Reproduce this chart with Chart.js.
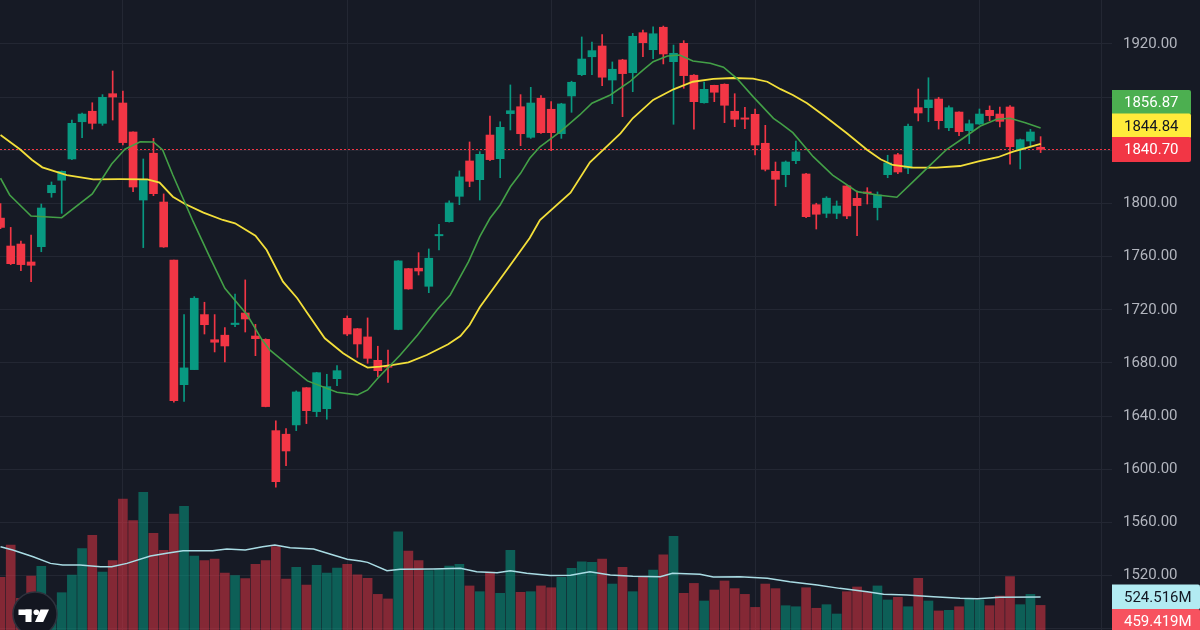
<!DOCTYPE html>
<html>
<head>
<meta charset="utf-8">
<script src="https://cdn.jsdelivr.net/npm/chart.js@4.4.1/dist/chart.umd.min.js"></script>
<style>
  html, body { margin: 0; padding: 0; background: #161a25; overflow: hidden; }
  #wrap { width: 1200px; height: 630px; position: relative; }
</style>
</head>
<body>
<div id="wrap"><canvas id="chart"></canvas></div>
<script>
// daily candles
const opens = [
  1789, 1768, 1769.5, 1756, 1767.5, 1808.1, 1817.5, 1833.5, 1861.5, 1869.4,
  1860.3, 1882.6, 1875.6, 1853.8, 1802.6, 1837.8, 1801.1, 1757.5, 1663.7, 1675,
  1716.4, 1697.5, 1700.9, 1708.9, 1717.6, 1700.3, 1697.8, 1629.1, 1626.4, 1633.4,
  1661.4, 1643.4, 1645.6, 1668.2, 1713.6, 1705.8, 1699.6, 1682, 1677.8, 1705.2,
  1751, 1751.3, 1737.7, 1775.7, 1786.3, 1805.4, 1832, 1817.9, 1851.5, 1833.7,
  1867.6, 1872.8, 1849.8, 1879.2, 1870.9, 1852.5, 1880.9, 1896.9, 1910.4, 1918.5,
  1892.9, 1908, 1898.4, 1928.5, 1915.7, 1932.6, 1906.7, 1920.5, 1896.5, 1875.8,
  1888.9, 1889.7, 1869.4, 1864.4, 1867.1, 1845.3, 1824.2, 1821.7, 1832.2, 1822.2,
  1799.1, 1792.6, 1792.6, 1813.2, 1803.9, 1808.7, 1796.9, 1821.7, 1836.7, 1826.5,
  1872.1, 1872.1, 1878.6, 1857, 1868.8, 1854.8, 1859.8, 1870.1, 1867.3, 1872.6,
  1840.5, 1847, 1842.3
];
const highs = [
  1800, 1782, 1771.8, 1776.3, 1799.6, 1816.2, 1824.5, 1862.8, 1868, 1875.8,
  1881.9, 1899.7, 1884.6, 1854, 1833.5, 1849, 1807.2, 1757.5, 1716.4, 1729.9,
  1725.7, 1716.4, 1706.6, 1731.9, 1742.5, 1709.1, 1698.2, 1636.4, 1630.6, 1659,
  1661.5, 1673, 1671.5, 1678, 1715.4, 1706, 1713.9, 1692.6, 1689.8, 1757,
  1751.2, 1763, 1765.8, 1784.4, 1802, 1824.5, 1846.3, 1839, 1865.8, 1861.5,
  1889.2, 1881.9, 1887.4, 1881.1, 1876.6, 1875.4, 1892, 1925.3, 1921.5, 1927,
  1906.5, 1908.5, 1928, 1930.5, 1933, 1933.5, 1919.2, 1922.5, 1897, 1891.4,
  1889, 1890, 1882.6, 1872.4, 1871.1, 1858.8, 1831.2, 1832, 1847, 1822.7,
  1800.2, 1805.1, 1801.9, 1813.5, 1809.4, 1811.9, 1808.7, 1836.3, 1837.8, 1859.8,
  1886.1, 1894.6, 1879.9, 1873.4, 1869, 1862.8, 1871.1, 1873.4, 1872.6, 1873.6,
  1848.5, 1855.8, 1850.3
];
const lows = [
  1781, 1754, 1749.5, 1741.2, 1763.7, 1804.7, 1792.6, 1833, 1849.5, 1856,
  1858.8, 1862.8, 1844, 1808.9, 1766.8, 1805.9, 1767, 1650.5, 1651, 1675,
  1701.8, 1688.3, 1680.8, 1707.3, 1703.3, 1685.5, 1647, 1586.5, 1602.8, 1629.1,
  1634.4, 1639.6, 1637.7, 1662.9, 1700.6, 1684.3, 1679.8, 1669.7, 1665.3, 1705,
  1735.5, 1746.2, 1732.9, 1765, 1786, 1799.1, 1812.6, 1802.6, 1832.2, 1819.4,
  1855.3, 1843.5, 1849, 1852.8, 1839.7, 1849, 1868.6, 1896.2, 1896.9, 1888.6,
  1875.1, 1865.3, 1884.1, 1910.4, 1909, 1905, 1859.6, 1886.7, 1856, 1875.5,
  1876.6, 1860.8, 1857.8, 1856.3, 1836.5, 1824.5, 1798.4, 1812.6, 1830, 1789.4,
  1780.8, 1789.4, 1788.6, 1788.6, 1775.8, 1799.6, 1787.6, 1819.4, 1822.4, 1822.4,
  1862.1, 1861.5, 1856, 1854.8, 1851, 1845, 1859.5, 1862.3, 1857.6, 1829.5,
  1826, 1842.5, 1838.3
];
const closes = [
  1782, 1754.7, 1754, 1753.5, 1796.6, 1813.7, 1824.2, 1860.3, 1867.3, 1860.3,
  1879.9, 1880.1, 1845.8, 1812.4, 1817.7, 1807.4, 1767.3, 1651.7, 1676.3, 1728.7,
  1708.8, 1695.6, 1692.8, 1710, 1713.1, 1698.3, 1647.2, 1590.7, 1613.8, 1658.2,
  1644.1, 1672.7, 1662.2, 1674.2, 1701.8, 1694.3, 1683.5, 1674.2, 1676.8, 1756.8,
  1735.7, 1749.2, 1758.8, 1776.7, 1800.4, 1820, 1816.7, 1837, 1833, 1857.3,
  1869.8, 1852.5, 1875.6, 1853.3, 1853.3, 1874.9, 1891.2, 1908.7, 1915, 1895,
  1901, 1897.7, 1925.8, 1921, 1927.7, 1912.5, 1913, 1896.2, 1876.6, 1885.9,
  1883.7, 1873.9, 1863.4, 1863.4, 1844, 1825.7, 1818.2, 1831.2, 1838.8, 1790.1,
  1791.9, 1804, 1798.1, 1790.6, 1798.4, 1807.7, 1806.4, 1830.5, 1823.7, 1858.1,
  1868.1, 1877.9, 1862.3, 1872.1, 1854, 1860, 1867.3, 1866.1, 1861.8, 1842.7,
  1848, 1853.8, 1840.7
];
// volume in millions
const volumes = [
  680, 933, 515, 690, 766, 460, 559, 698, 904, 1009,
  721, 810, 1294, 1124, 1346, 1025, 891, 1176, 1236, 847,
  810, 823, 713, 693, 669, 781, 810, 920, 666, 758,
  619, 774, 713, 753, 781, 700, 672, 546, 510, 1037,
  886, 810, 732, 742, 768, 781, 612, 567, 721, 554,
  891, 562, 567, 612, 598, 680, 750, 802, 797, 823,
  627, 758, 567, 685, 737, 855, 1001, 554, 632, 494,
  580, 651, 591, 546, 444, 627, 591, 457, 449, 598,
  437, 465, 392, 567, 604, 562, 612, 502, 523, 449,
  672, 494, 416, 421, 449, 510, 502, 457, 533, 685,
  465, 546, 459.419
];

// moving averages: [bar index, value]
const maFast = [
  [0, 1819], [0.9, 1806.4], [3, 1790.6], [6, 1789.3], [9, 1807.2], [10.9, 1829.7],
  [12.2, 1840.8], [13.7, 1846.5], [15, 1846.3], [15.9, 1840.3], [16.9, 1821.4],
  [18.9, 1786.3], [20.5, 1760], [22, 1736.2], [24.2, 1716.1], [25.6, 1698],
  [26.4, 1689.8], [30.1, 1666.5], [33, 1658], [35, 1656], [36, 1659.7], [37, 1668.5],
  [39.2, 1686], [40.9, 1701], [42.8, 1719.9], [44.1, 1731.2], [45.9, 1756.2],
  [47, 1775], [48, 1788.9], [49, 1798.9], [50, 1812.6], [51, 1822.7], [51.9, 1834],
  [52.9, 1842.7], [54.9, 1854], [56.8, 1866.6], [58, 1875.4], [59.8, 1881.6],
  [61.7, 1891.6], [63, 1900.4], [64, 1906.7], [65.4, 1911], [66.6, 1911.7],
  [67.9, 1907.2], [69.6, 1905.5], [70.9, 1902.5], [72.2, 1894.2], [73.8, 1880.4],
  [75.8, 1864.1], [76.5, 1860.3], [77.7, 1853.3], [79.7, 1835.2], [81.6, 1821.4],
  [84, 1808.9], [86, 1806.4], [87.9, 1804.7], [89.5, 1816.4], [91.2, 1829],
  [92.8, 1840.8], [94.4, 1849.1], [96.1, 1858.3], [97.7, 1863.4], [99, 1864.1],
  [100.5, 1860.8], [102, 1856.87]
];
const maSlow = [
  [0, 1851.5], [1.9, 1840.8], [3.1, 1832.7], [4.1, 1827.2], [6.5, 1821.4],
  [9.1, 1818.2], [11.7, 1818.4], [14.4, 1818.2], [15.6, 1815.7], [16.9, 1805.1],
  [18.1, 1799.6], [19.9, 1793.1], [21.8, 1787.6], [23, 1785.1], [25, 1775.8],
  [26.1, 1765], [27.7, 1741.2], [29.1, 1728.7], [30.1, 1717.4], [31.8, 1698.6],
  [33.6, 1687.3], [35, 1680.5], [36, 1676.5], [37.2, 1677.2], [38.5, 1678.5],
  [40, 1680.5], [41.8, 1686], [43.9, 1694.1], [45.1, 1700.3], [46, 1708.6],
  [47, 1721.9], [48.7, 1740], [50, 1753.7], [51.9, 1774], [52.9, 1787.6],
  [55.9, 1808.1], [57.8, 1831], [59.1, 1840.3], [60.8, 1852.8], [62, 1864.1],
  [64, 1877.9], [66, 1885.9], [67.9, 1891.6], [69.9, 1893.7], [71.8, 1894.4],
  [73.8, 1893.9], [75.2, 1891.6], [76.5, 1886], [77.7, 1881.6], [79.1, 1875.4],
  [80.9, 1865.3], [83, 1852.8], [85, 1840.3], [86.3, 1833.3], [87.5, 1829],
  [89.5, 1827], [91.8, 1827], [94.1, 1828.2], [96.1, 1832], [97.8, 1834.8],
  [99.3, 1839], [102, 1844.84]
];
const volMa = [
  [0, 920], [1.2, 894], [3.2, 841], [4.9, 789], [6.1, 776], [7.8, 776], [9.8, 763],
  [10.9, 763], [12.4, 789], [14.7, 847], [16.3, 868], [17.9, 888], [20.8, 888],
  [22.2, 902], [24, 894], [25.7, 920], [26.9, 933], [28.4, 912], [30.7, 902],
  [32.3, 862], [34, 821], [35.3, 808], [36, 797], [37.9, 732], [39.2, 742],
  [42.4, 745], [45.1, 750], [46.7, 724], [48.7, 716], [50, 732], [51.6, 711],
  [53.9, 693], [55.9, 695], [57.8, 724], [59.8, 698], [62, 688], [64.7, 685],
  [65.9, 711], [68.6, 703], [69.9, 682], [72.5, 685], [75.2, 672], [77.4, 645],
  [80.1, 619], [82.3, 593], [85, 567], [86.6, 546], [88.9, 541], [91.5, 528],
  [94.1, 515], [95.8, 512], [98, 523], [102, 524.516]
];

const priceTicks = [1480, 1520, 1560, 1600, 1640, 1680, 1720, 1760, 1800, 1840, 1880, 1920];
const priceLabelTicks = [1520, 1560, 1600, 1640, 1680, 1720, 1760, 1800, 1840, 1880, 1920];
const dateGridIndex = [12, 34, 54, 74, 96, 108];

const UP = '#089981';
const DOWN = '#f23645';
const VOL_UP = 'rgba(8,153,129,0.55)';
const VOL_DOWN = 'rgba(242,54,69,0.5)';
const GRID = '#232733';
const FONT = 'Roboto';

const n = closes.length;
const idx = closes.map((_, i) => i);
const candleColors = idx.map(i => closes[i] >= opens[i] ? UP : DOWN);
const volColors = idx.map(i => closes[i] >= opens[i] ? VOL_UP : VOL_DOWN);
const pts = arr => arr.map(([x, y]) => ({ x, y }));

// stacks labels so they don't overlap, first one stays anchored
function stackLabels(items, h, dir) {
  for (let k = 1; k < items.length; k++) {
    const prev = items[k - 1];
    if (dir < 0) items[k].y = Math.min(items[k].y, prev.y - h);
    else items[k].y = Math.max(items[k].y, prev.y + h);
  }
  return items;
}

function drawTag(ctx, x, y, w, h, bg, fg, text) {
  ctx.fillStyle = bg;
  ctx.beginPath();
  ctx.roundRect(x, y - h / 2, w, h, [0, 2, 2, 0]);
  ctx.fill();
  ctx.fillStyle = fg;
  ctx.font = '15px ' + FONT;
  ctx.textAlign = 'left';
  ctx.textBaseline = 'middle';
  ctx.fillText(text, x + 12, y + 1);
}

const overlays = {
  id: 'overlays',
  beforeDatasetsDraw(chart) {
    // dotted last-price line
    const { ctx, chartArea, scales } = chart;
    const y = Math.round(scales.y.getPixelForValue(closes[n - 1]));
    ctx.save();
    ctx.globalAlpha = 1;
    ctx.fillStyle = DOWN;
    for (let px = chartArea.left; px < chartArea.right; px += 4) {
      ctx.fillRect(px, y, 2, 1);
    }
    ctx.restore();
  },
  afterDraw(chart) {
    const { ctx, chartArea, scales } = chart;
    const x = chartArea.right;
    ctx.save();

    const main = stackLabels([
      { y: scales.y.getPixelForValue(closes[n - 1]), bg: candleColors[n - 1], fg: '#ffffff', text: closes[n - 1].toFixed(2) },
      { y: scales.y.getPixelForValue(maSlow[maSlow.length - 1][1]), bg: '#ffeb3b', fg: '#131722', text: maSlow[maSlow.length - 1][1].toFixed(2) },
      { y: scales.y.getPixelForValue(maFast[maFast.length - 1][1]), bg: '#4caf50', fg: '#ffffff', text: maFast[maFast.length - 1][1].toFixed(2) }
    ], 23.5, -1);
    for (let k = main.length - 1; k >= 0; k--) {
      const t = main[k];
      drawTag(ctx, x, t.y, 79, 25, t.bg, t.fg, t.text);
    }

    const vol = stackLabels([
      { y: scales.vol.getPixelForValue(volMa[volMa.length - 1][1]), bg: '#b2ebf2', fg: '#131722', text: volMa[volMa.length - 1][1].toFixed(3) + 'M' },
      { y: scales.vol.getPixelForValue(volumes[n - 1]), bg: '#f7525f', fg: '#ffffff', text: volumes[n - 1].toFixed(3) + 'M' }
    ], 24.5, 1);
    vol.forEach(t => drawTag(ctx, x, t.y, 88, 25, t.bg, t.fg, t.text));

    // watermark badge, bottom left
    ctx.beginPath();
    ctx.arc(35, 614, 22, 0, Math.PI * 2);
    ctx.fillStyle = '#131620';
    ctx.fill();
    ctx.lineWidth = 1.5;
    ctx.strokeStyle = '#2e323d';
    ctx.stroke();
    ctx.fillStyle = '#ffffff';
    ctx.fillRect(18.5, 609.5, 13, 5.5);
    ctx.fillRect(25.5, 609.5, 6, 12.5);
    ctx.beginPath();
    ctx.arc(36.3, 612.3, 2.8, 0, Math.PI * 2);
    ctx.fill();
    ctx.beginPath();
    ctx.moveTo(40.5, 609.5);
    ctx.lineTo(49, 609.5);
    ctx.lineTo(43.2, 622);
    ctx.lineTo(35, 622);
    ctx.closePath();
    ctx.fill();

    ctx.restore();
  }
};

new Chart(document.getElementById('chart'), {
  type: 'bar',
  data: {
    datasets: [
      {
        type: 'line', label: 'MA fast', data: pts(maFast), yAxisID: 'y',
        borderColor: '#43a047', borderWidth: 1.6, pointRadius: 0, tension: 0, order: 1
      },
      {
        type: 'line', label: 'MA slow', data: pts(maSlow), yAxisID: 'y',
        borderColor: '#f3df3a', borderWidth: 1.8, pointRadius: 0, tension: 0, order: 2
      },
      {
        label: 'Bodies', data: idx.map(i => ({ x: i, y: [opens[i], closes[i]] })), yAxisID: 'y',
        backgroundColor: candleColors, barThickness: 8, grouped: false, order: 3
      },
      {
        label: 'Wicks', data: idx.map(i => ({ x: i, y: [lows[i], highs[i]] })), yAxisID: 'y',
        backgroundColor: candleColors, barThickness: 1, grouped: false, order: 4
      },
      {
        type: 'line', label: 'Vol MA', data: pts(volMa), yAxisID: 'vol',
        borderColor: '#a9dce4', borderWidth: 1.5, pointRadius: 0, tension: 0, order: 5
      },
      {
        label: 'Volume', data: idx.map(i => ({ x: i, y: volumes[i] })), yAxisID: 'vol',
        backgroundColor: volColors, barThickness: 9, grouped: false, order: 6
      }
    ]
  },
  options: {
    responsive: true,
    maintainAspectRatio: false,
    animation: false,
    events: [],
    layout: { padding: 0, autoPadding: false },
    plugins: { legend: { display: false }, tooltip: { enabled: false } },
    scales: {
      x: {
        type: 'linear', min: -0.05, max: 109.0, offset: false,
        afterBuildTicks: s => { s.ticks = dateGridIndex.map(v => ({ value: v })); },
        afterFit: s => { s.height = 0; s.paddingLeft = 0; s.paddingRight = 0; },
        ticks: { display: false },
        border: { display: false },
        grid: { color: GRID, drawTicks: false, offset: false }
      },
      y: {
        position: 'right', min: 1479.1, max: 1953.1,
        afterBuildTicks: s => { s.ticks = priceTicks.map(v => ({ value: v })); },
        afterFit: s => { s.width = 88; s.paddingTop = 0; s.paddingBottom = 0; },
        ticks: {
          color: '#b2b5be', padding: 11,
          font: { family: FONT, size: 15 },
          callback: v => priceLabelTicks.includes(v) ? v.toFixed(2) : ''
        },
        border: { display: false },
        grid: { color: GRID, drawTicks: false }
      },
      vol: { display: false, min: 266.6, max: 5206 }
    }
  },
  plugins: [overlays]
});
</script>
</body>
</html>
